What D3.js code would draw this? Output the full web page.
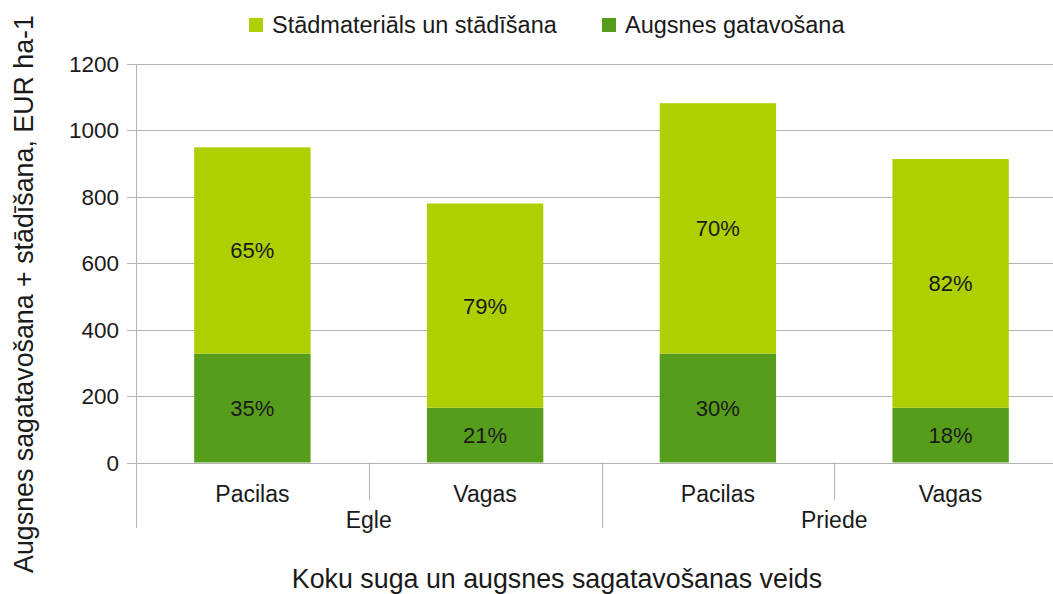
<!DOCTYPE html>
<html>
<head>
<meta charset="utf-8">
<script src="https://cdn.jsdelivr.net/npm/d3@7"></script>
<style>
  body { margin: 0; background: #fff; }
  svg { display: block; font-family: "Liberation Sans", Arial, sans-serif; }
</style>
</head>
<body>
<svg id="chart" width="1053" height="594"></svg>
<script>
// data
const groups = ['Egle', 'Egle', 'Priede', 'Priede'];
const methods = ['Pacilas', 'Vagas', 'Pacilas', 'Vagas'];
const soilPrep = [328, 165, 328, 165];        // Augsnes gatavošana
const planting = [621, 615, 754, 749];        // Stādmateriāls un stādīšana
const yTicks = [0, 200, 400, 600, 800, 1000, 1200];
const seriesNames = ['Stādmateriāls un stādīšana', 'Augsnes gatavošana'];
const colors = { planting: '#aecf00', soil: '#579d1c' };

const svg = d3.select('#chart');
const keys = methods.map((m, i) => i);
const ink = '#1a1a1a';

const x = d3.scaleBand().domain(keys).range([136, 1067]).paddingInner(0.5).paddingOuter(0.25);
const y = d3.scaleLinear().domain([0, 1200]).range([462.5, 64]);
const step = x.step();
const x0 = x.range()[0];

// grid + ticks
svg.append('g').selectAll('line').data(yTicks).join('line')
  .attr('x1', 127).attr('x2', 1053)
  .attr('y1', d => Math.round(y(d)) + 0.5).attr('y2', d => Math.round(y(d)) + 0.5)
  .attr('stroke', '#b3b3b3').attr('stroke-width', 1);

svg.append('g').selectAll('text').data(yTicks).join('text')
  .attr('x', 119).attr('y', d => y(d) + 8)
  .attr('text-anchor', 'end').attr('font-size', 22.5).attr('fill', ink)
  .text(d => d);

// stacked bars
const stack = keys.map(i => [
  { y0: 0, y1: soilPrep[i], c: colors.soil, total: soilPrep[i] + planting[i] },
  { y0: soilPrep[i], y1: soilPrep[i] + planting[i], c: colors.planting, total: soilPrep[i] + planting[i] }
].map(s => Object.assign(s, { i })));

const segs = svg.append('g').selectAll('g').data(stack).join('g')
  .selectAll('g').data(d => d).join('g');

segs.append('rect')
  .attr('x', d => x(d.i)).attr('width', x.bandwidth())
  .attr('y', d => y(d.y1)).attr('height', d => y(d.y0) - y(d.y1))
  .attr('fill', d => d.c);

segs.append('text')
  .attr('x', d => x(d.i) + x.bandwidth() / 2)
  .attr('y', d => (y(d.y0) + y(d.y1)) / 2 + 8)
  .attr('text-anchor', 'middle').attr('font-size', 22).attr('fill', ink)
  .text(d => Math.round((d.y1 - d.y0) / d.total * 100) + '%');

// axes lines
svg.append('line').attr('x1', 136.5).attr('x2', 136.5).attr('y1', 64).attr('y2', 528)
  .attr('stroke', '#b3b3b3');
const seps = d3.range(1, 4).map(k => ({ xp: x0 + k * step, long: groups[k] !== groups[k - 1] }));
svg.append('g').selectAll('line').data(seps).join('line')
  .attr('x1', d => Math.round(d.xp) + 0.5).attr('x2', d => Math.round(d.xp) + 0.5)
  .attr('y1', 462.5).attr('y2', d => d.long ? 528 : 500)
  .attr('stroke', '#b3b3b3');

// category labels
svg.append('g').selectAll('text').data(keys).join('text')
  .attr('x', i => x(i) + x.bandwidth() / 2).attr('y', 501.5)
  .attr('text-anchor', 'middle').attr('font-size', 23).attr('fill', ink)
  .text(i => methods[i]);

const groupNames = Array.from(new Set(groups));
svg.append('g').selectAll('text').data(groupNames).join('text')
  .attr('x', g => {
    const idx = keys.filter(i => groups[i] === g);
    return (x0 + idx[0] * step + x0 + (idx[idx.length - 1] + 1) * step) / 2;
  })
  .attr('y', 528).attr('text-anchor', 'middle').attr('font-size', 23).attr('fill', ink)
  .text(g => g);

// axis titles
svg.append('text')
  .attr('transform', 'translate(33,294) rotate(-90)')
  .attr('text-anchor', 'middle').attr('font-size', 26.8).attr('fill', ink)
  .text('Augsnes sagatavošana + stādīšana, EUR ha-1');

svg.append('text')
  .attr('x', 557).attr('y', 588)
  .attr('text-anchor', 'middle').attr('font-size', 26.8).attr('fill', ink)
  .text('Koku suga un augsnes sagatavošanas veids');

// legend
const legendX = [249, 602];
const legendColors = [colors.planting, colors.soil];
const lg = svg.append('g').selectAll('g').data(seriesNames).join('g')
  .attr('transform', (d, i) => `translate(${legendX[i]},18)`);
lg.append('rect').attr('width', 14).attr('height', 14).attr('fill', (d, i) => legendColors[i]);
lg.append('text').attr('x', 23).attr('y', 15.3).attr('font-size', 23.5).attr('fill', ink)
  .text(d => d);
</script>
</body>
</html>
